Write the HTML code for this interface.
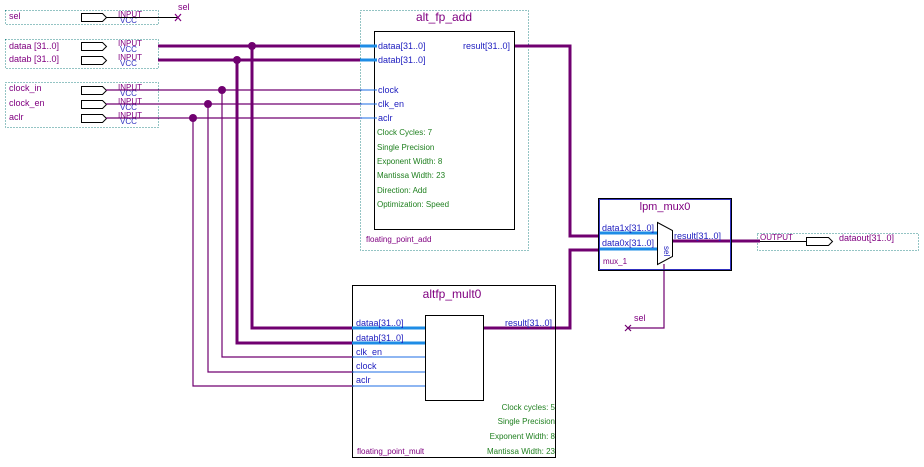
<!DOCTYPE html>
<html><head><style>body{margin:0;background:#fff}svg{display:block}text{font-family:"Liberation Sans",sans-serif}</style></head><body>
<svg width="924" height="467" xmlns="http://www.w3.org/2000/svg">
<g fill="none" stroke="#2a8a8a" stroke-dasharray="1,2" stroke-width="1">
<rect x="5.5" y="10.5" width="153" height="14"/>
<rect x="5.5" y="39.5" width="153" height="29"/>
<rect x="5.5" y="82.5" width="153" height="45"/>
<rect x="360.5" y="10.5" width="168" height="240"/>
<rect x="757.5" y="233.5" width="161" height="17"/>
</g>
<g font-size="9" fill="#800080">
<text x="9" y="19">sel</text><text x="9" y="49">dataa [31..0]</text><text x="9" y="62">datab [31..0]</text>
<text x="9" y="91">clock_in</text><text x="9" y="106">clock_en</text><text x="9" y="120">aclr</text>
</g>
<g stroke="#000" fill="#fff" stroke-width="1">
<path d="M81.5 13.5h21l4 4l-4 4h-21z"/><path d="M81.5 42.5h21l4 4l-4 4h-21z"/><path d="M81.5 56.5h21l4 4l-4 4h-21z"/>
<path d="M81.5 86.5h21l4 4l-4 4h-21z"/><path d="M81.5 100.5h21l4 4l-4 4h-21z"/><path d="M81.5 114.5h21l4 4l-4 4h-21z"/>
</g>
<g font-size="8">
<g fill="#800080"><text x="118" y="17">INPUT</text><text x="118" y="46">INPUT</text><text x="118" y="60">INPUT</text><text x="118" y="90">INPUT</text><text x="118" y="104">INPUT</text><text x="118" y="118">INPUT</text></g>
<g fill="#3030c0"><text x="120" y="23">VCC</text><text x="120" y="52">VCC</text><text x="120" y="66">VCC</text><text x="120" y="96">VCC</text><text x="120" y="110">VCC</text><text x="120" y="124">VCC</text></g>
</g>
<g stroke="#000" stroke-width="1"><line x1="106" y1="17.5" x2="178" y2="17.5"/></g>
<g stroke="#800080" stroke-width="1.2"><path d="M175 14l6 7M181 14l-6 7"/></g>
<text x="178" y="10" font-size="9" fill="#800080">sel</text>
<!-- buses -->
<g stroke="#700070" fill="none" stroke-width="3">
<path d="M158 46H362"/><path d="M158 60H362"/>
<path d="M252 46V328H354"/><path d="M237 60V343H354"/>
<path d="M514 46H570V236H600"/><path d="M483 328H570V250H600"/>
<path d="M672 241H760"/>
</g>
<g stroke="#700070" fill="none" stroke-width="1.2">
<path d="M106 90H362"/><path d="M106 104H362"/><path d="M106 118H362"/>
<path d="M222 90V357H354"/><path d="M208 104V372H354"/><path d="M193 118V386H354"/>
<path d="M664 264V328H628"/>
</g>
<g fill="#700070"><circle cx="252" cy="46" r="4"/><circle cx="237" cy="60" r="4"/><circle cx="222" cy="90" r="4"/><circle cx="208" cy="104" r="4"/><circle cx="193" cy="118" r="4"/></g>
<g stroke="#700070" stroke-width="1.2"><path d="M625 325l6 6M631 325l-6 6"/></g>
<text x="634" y="321" font-size="9" fill="#800080">sel</text>
<!-- alt_fp_add -->
<rect x="374.5" y="31.5" width="140" height="198" fill="none" stroke="#000"/>
<text x="444" y="21" font-size="12" fill="#800080" text-anchor="middle">alt_fp_add</text>
<g stroke="#1e8ce6" stroke-width="3"><line x1="360" y1="46" x2="377" y2="46"/><line x1="360" y1="60" x2="377" y2="60"/></g>
<g stroke="#1e6ce6" stroke-width="1"><line x1="360" y1="90" x2="377" y2="90"/><line x1="360" y1="104" x2="377" y2="104"/><line x1="360" y1="118" x2="377" y2="118"/></g>
<g font-size="9" fill="#2020c0"><text x="378" y="49">dataa[31..0]</text><text x="378" y="63">datab[31..0]</text><text x="378" y="93">clock</text><text x="378" y="107">clk_en</text><text x="378" y="121">aclr</text>
<text x="510" y="49" text-anchor="end">result[31..0]</text></g>
<g font-size="8" fill="#208020"><text x="377" y="135">Clock Cycles: 7</text><text x="377" y="150">Single Precision</text><text x="377" y="164">Exponent Width: 8</text><text x="377" y="178">Mantissa Width: 23</text><text x="377" y="193">Direction: Add</text><text x="377" y="207">Optimization: Speed</text></g>
<text x="366" y="242" font-size="8" fill="#800080">floating_point_add</text>
<!-- mult -->
<rect x="352.5" y="285.5" width="203" height="172" fill="none" stroke="#000"/>
<rect x="425.5" y="315.5" width="58" height="85" fill="none" stroke="#000"/>
<text x="452" y="298" font-size="12" fill="#800080" text-anchor="middle">altfp_mult0</text>
<g stroke="#1e8ce6" stroke-width="3"><line x1="352" y1="328" x2="425" y2="328"/><line x1="352" y1="343" x2="425" y2="343"/></g>
<g stroke="#1e6ce6" stroke-width="1"><line x1="352" y1="357" x2="425" y2="357"/><line x1="352" y1="372" x2="425" y2="372"/><line x1="352" y1="386" x2="425" y2="386"/></g>
<g font-size="9" fill="#2020c0"><text x="356" y="326">dataa[31..0]</text><text x="356" y="341">datab[31..0]</text><text x="356" y="355">clk_en</text><text x="356" y="369">clock</text><text x="356" y="383">aclr</text>
<text x="552" y="326" text-anchor="end">result[31..0]</text></g>
<g font-size="8" fill="#208020" text-anchor="end"><text x="555" y="410">Clock cycles: 5</text><text x="555" y="424">Single Precision</text><text x="555" y="439">Exponent Width: 8</text><text x="555" y="454">Mantissa Width: 23</text></g>
<text x="357" y="454" font-size="8" fill="#800080">floating_point_mult</text>
<!-- mux -->
<rect x="598.5" y="198.5" width="133" height="72" fill="none" stroke="#000" stroke-width="1"/>
<rect x="599.5" y="199.5" width="131" height="70" fill="none" stroke="#3030c0" stroke-width="1"/>
<text x="665" y="210" font-size="11" fill="#800080" text-anchor="middle">lpm_mux0</text>
<g stroke="#1e8ce6" stroke-width="3"><line x1="600" y1="233" x2="658" y2="233"/><line x1="600" y1="249" x2="658" y2="249"/></g>
<g font-size="9" fill="#2020c0"><text x="602" y="231">data1x[31..0]</text><text x="602" y="246">data0x[31..0]</text><text x="674" y="239">result[31..0]</text></g>
<path d="M657.5 222.5L672.5 230.5V256.5L657.5 264.5Z" fill="#fff" stroke="#000"/>
<text x="664" y="246" font-size="8" fill="#2020c0" transform="rotate(90 664 246)">sel</text>
<text x="603" y="264" font-size="8" fill="#800080">mux_1</text>
<!-- output -->
<line x1="760" y1="241.5" x2="806" y2="241.5" stroke="#000"/>
<path d="M806.5 237.5h22l4 4l-4 4h-22z" fill="#fff" stroke="#000"/>
<text x="760" y="240" font-size="8" fill="#800080">OUTPUT</text>
<text x="839" y="241" font-size="9" fill="#800080">dataout[31..0]</text>
</svg>
</body></html>
